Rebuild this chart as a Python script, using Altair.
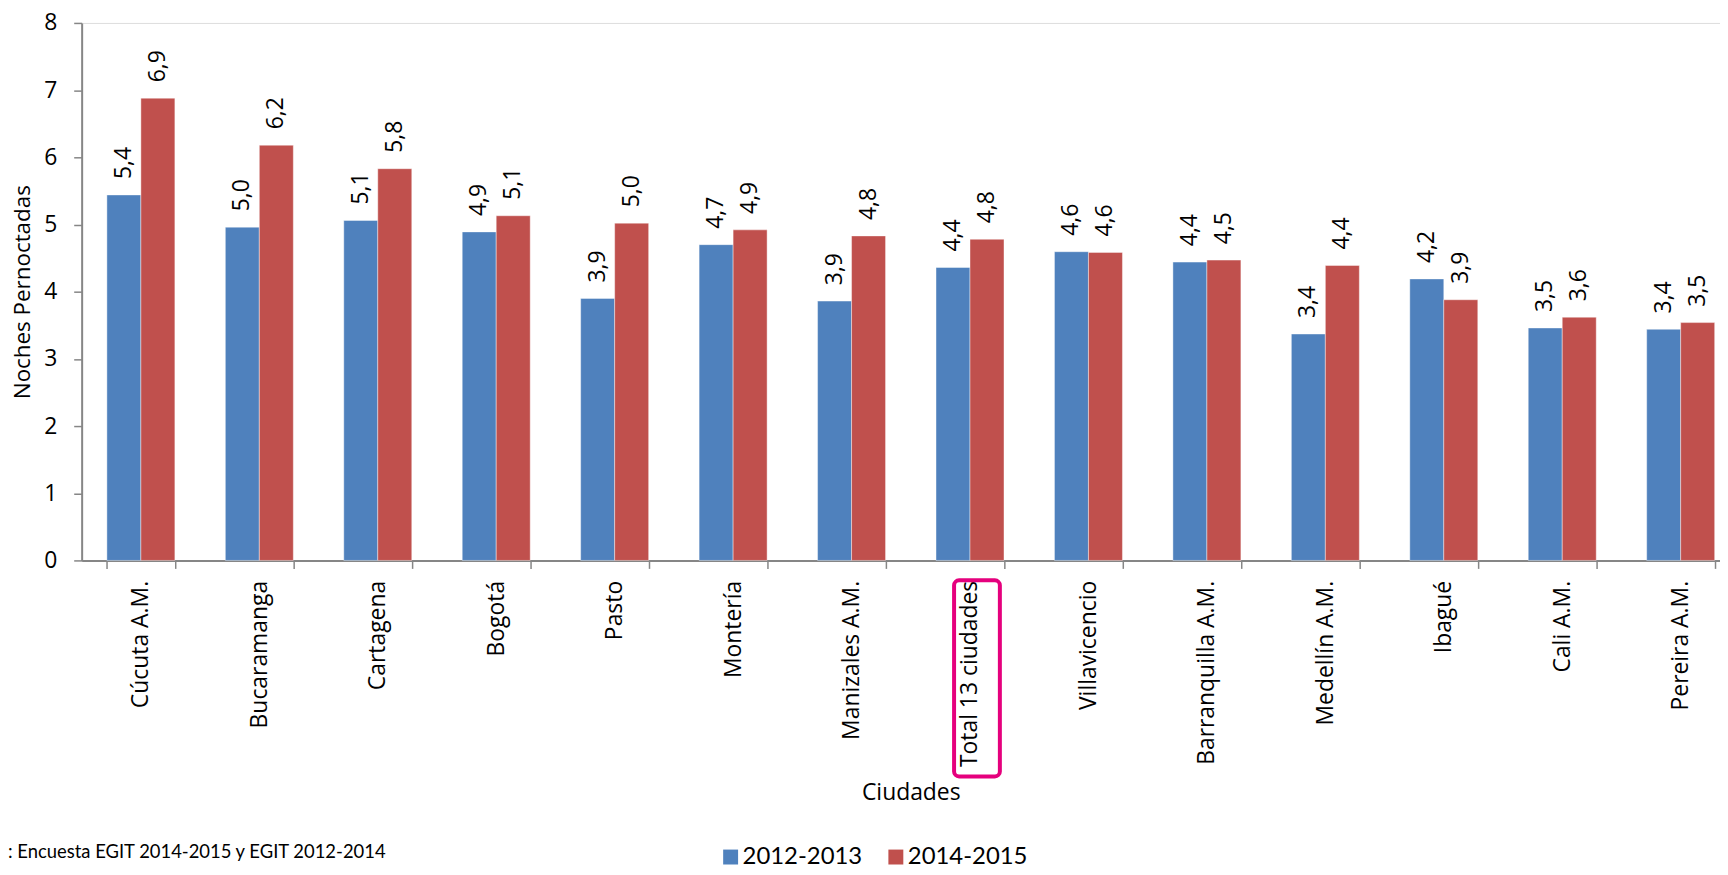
import altair as alt
import pandas as pd

ciudades = ["Cúcuta A.M.", "Bucaramanga", "Cartagena", "Bogotá", "Pasto", "Montería",
            "Manizales A.M.", "Total 13 ciudades", "Villavicencio", "Barranquilla A.M.",
            "Medellín A.M.", "Ibagué", "Cali A.M.", "Pereira A.M."]
v_2012_2013 = [5.44, 4.96, 5.06, 4.89, 3.90, 4.70, 3.86, 4.36, 4.595, 4.44, 3.37, 4.19, 3.46, 3.44]
v_2014_2015 = [6.88, 6.18, 5.83, 5.13, 5.02, 4.92, 4.83, 4.78, 4.585, 4.47, 4.39, 3.88, 3.62, 3.54]
series = ["2012-2013", "2014-2015"]
colores = ["#4F81BD", "#C0504D"]
y_ticks = [0, 1, 2, 3, 4, 5, 6, 7, 8]
destacada = ["Total 13 ciudades"]
fuente = ": Encuesta EGIT 2014-2015 y EGIT 2012-2014"

rows = []
for c, a, b in zip(ciudades, v_2012_2013, v_2014_2015):
    rows.append({"ciudad": c, "serie": series[0], "valor": a})
    rows.append({"ciudad": c, "serie": series[1], "valor": b})
df = pd.DataFrame(rows)

FONT = "Open Sans"
AXIS_COLOR = "#868686"
PLOT_W = 1666
PLOT_H = 540

x_enc = alt.X(
    "ciudad:N", sort=ciudades, title="Ciudades",
    scale=alt.Scale(paddingInner=0.426, paddingOuter=0.213),
    axis=alt.Axis(labelAngle=270, labelAlign="right", labelBaseline="middle",
                  labelFontSize=23, labelFont=FONT, labelColor="#000000",
                  labelPadding=12, labelLimit=400, tickSize=8, tickBand="extent",
                  tickColor=AXIS_COLOR, tickWidth=1.5, domainColor=AXIS_COLOR,
                  domainWidth=2, titleFont=FONT, titleFontSize=23,
                  titleFontWeight="normal", titleColor="#000000", titlePadding=22),
)
y_enc = alt.Y(
    "valor:Q", title="Noches Pernoctadas",
    scale=alt.Scale(domain=[0, 8], nice=False),
    axis=alt.Axis(values=y_ticks, format="d", labelFontSize=23, labelFont=FONT,
                  labelColor="#000000", labelPadding=17, tickSize=8,
                  tickColor=AXIS_COLOR, tickWidth=1.5, domainColor=AXIS_COLOR,
                  domainWidth=2, grid=False, titleFont=FONT, titleFontSize=22.5,
                  titleFontWeight="normal", titleColor="#000000", titlePadding=9),
)
xoff = alt.XOffset("serie:N", sort=series,
                   scale=alt.Scale(paddingInner=0, paddingOuter=0))

base = alt.Chart(df)

bars = base.mark_bar(stroke="white", strokeWidth=0.6, strokeOpacity=0.7).encode(
    x=x_enc, xOffset=xoff, y=y_enc,
    color=alt.Color("serie:N", sort=series,
                    scale=alt.Scale(domain=series, range=colores),
                    legend=alt.Legend(title=None, orient="none", direction="horizontal",
                                      legendX=640, legendY=826, symbolType="square",
                                      symbolSize=225, symbolStrokeWidth=0,
                                      labelFont="Lato", labelFontSize=24,
                                      labelColor="#000000", labelOffset=0,
                                      columnPadding=21, padding=0)),
)

labels = base.transform_calculate(
    etiqueta="replace(format(datum.valor, '.1f'), '.', ',')"
).mark_text(angle=270, align="left", baseline="middle", dx=16,
            font=FONT, fontSize=23, color="#000000").encode(
    x=alt.X("ciudad:N", sort=ciudades),
    xOffset=xoff,
    y=alt.Y("valor:Q"),
    text="etiqueta:N",
)

box = alt.Chart(pd.DataFrame({"ciudad": destacada})).mark_bar(
    width=46, fill=None, fillOpacity=0, stroke="#E5007D", strokeWidth=4,
    cornerRadius=5, xOffset=7, clip=False,
).encode(
    x=alt.X("ciudad:N", sort=ciudades),
    y=alt.value(560),
    y2=alt.value(757),
)

nota = alt.Chart(pd.DataFrame({"t": [fuente]})).mark_text(
    align="left", baseline="alphabetic", font="Lato", fontSize=18.5, color="#000000",
).encode(
    x=alt.value(-74),
    y=alt.value(839),
    text="t:N",
)

chart = alt.layer(bars, labels, box, nota).properties(
    width=PLOT_W, height=PLOT_H,
    autosize=alt.AutoSizeParams(type="none"),
    padding={"left": 74, "top": 13, "right": -20, "bottom": 306},
).configure_view(stroke=None).configure(font=FONT)

chart.save("out.html", embed_options={"renderer": "svg", "actions": False})
